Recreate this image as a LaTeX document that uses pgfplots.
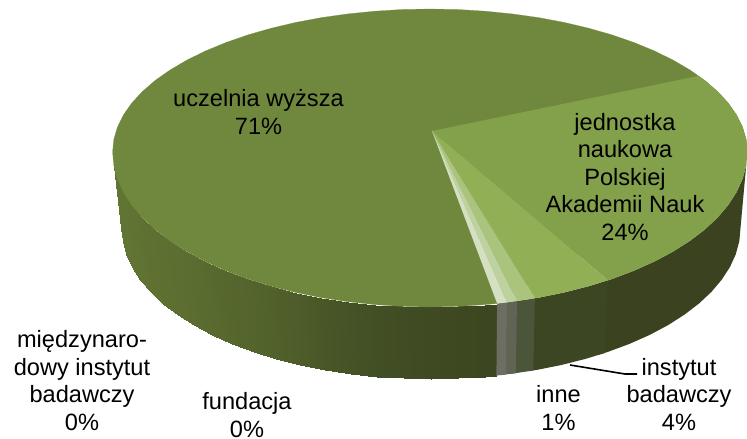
\documentclass[border=0pt]{standalone}
\usepackage{pgfplots}
\usepackage{fontspec}
\setmainfont{Liberation Sans}
\pgfplotsset{compat=1.18}
\definecolor{cA}{RGB}{112,136,61}
\definecolor{cB}{RGB}{131,160,75}
\definecolor{cC}{RGB}{145,175,85}
\definecolor{cD}{RGB}{170,195,125}
\definecolor{cE}{RGB}{190,210,160}
\definecolor{cF}{RGB}{213,224,195}
\definecolor{sB}{RGB}{58,66,32}
\definecolor{sC}{RGB}{60,70,35}
\definecolor{sD}{RGB}{75,85,58}
\definecolor{sE}{RGB}{95,100,85}
\definecolor{sF}{RGB}{108,110,100}
\tikzset{lab/.style={anchor=base,font=\fontsize{23.6pt}{27.4pt}\selectfont,align=center,inner sep=0pt,text=black}}
\begin{document}
\begin{tikzpicture}
\path[use as bounding box] (0,0) rectangle (747pt,439pt);
\begin{axis}[at={(0,0)},anchor=south west,scale only axis,width=747pt,height=439pt,
  xmin=0,xmax=747,ymin=0,ymax=439,y dir=reverse,hide axis,
  colormap={side}{rgb255=(60,70,32) rgb255=(66,78,36) rgb255=(81,97,43) rgb255=(91,109,48) rgb255=(96,115,51) rgb255=(98,118,52)},
  point meta min=80,point meta max=180]
% side, uczelnia wyzsza (gradient)
\addplot[surf,shader=interp,mesh/rows=2,mesh/cols=22,point meta=explicit] table[x=x,y=y,meta=t]{
x y t
112.6 152 180
113.8 165.5 175
117.4 178.9 170
123.4 192.1 165
131.7 205 160
142.3 217.5 155
155.1 229.5 150
170.0 240.9 145
186.9 251.6 140
205.6 261.6 135
226.0 270.7 130
247.9 279 125
271.3 286.2 120
295.9 292.5 115
321.4 297.7 110
347.9 301.7 105
374.9 304.6 100
402.3 306.4 95
430 307 90
457.7 306.4 85
485.1 304.6 80
497.1 303.5 80
121.5 228 180
122.7 241.2 175
126.2 254.2 170
132.1 267.1 165
140.2 279.6 160
150.5 291.8 155
163 303.5 150
177.5 314.6 145
193.9 325.1 140
212.1 334.8 135
232.1 343.7 130
253.5 351.7 125
276.2 358.8 120
300.2 364.9 115
325.2 369.9 110
350.9 373.9 105
377.3 376.7 100
404 378.4 95
431 379 90
458 378.4 85
484.7 376.7 80
496.4 375.6 80
};
% side, jednostka
\addplot[fill=sB,draw=none] coordinates {(747.4,152)(746.2,165.5)(742.6,178.9)(736.6,192.1)(728.3,205)(717.7,217.5)(704.9,229.5)(690,240.9)(673.1,251.6)(654.4,261.6)(634,270.7)(612.1,279)(600,283)
 (598,355)(608.5,351.7)(629.9,343.7)(649.9,334.8)(668.1,325.1)(684.5,314.6)(699,303.5)(711.5,291.8)(721.8,279.6)(729.9,267.1)(735.8,254.2)(739.3,241.2)(740.5,228)} --cycle;
% side, instytut
\addplot[fill=sC,draw=none] coordinates {(608,280.3)(588.7,286.2)(564.1,292.5)(538.6,297.7)(530,299)(529,371)(536.8,369.9)(561.8,364.9)(585.8,358.8)(604.6,353)} --cycle;
% side, inne and the two 0% slices
\addplot[fill=sD,draw=none] coordinates {(534.9,298.3)(512,301.7)(511,373.8)(533.3,370.5)} --cycle;
\addplot[fill=sE,draw=none] coordinates {(517,301.1)(502,303)(501,375.1)(515.8,373.2)} --cycle;
\addplot[fill=sF,draw=none] coordinates {(506.8,302.4)(497.1,303.5)(496.4,375.6)(505.9,374.5)} --cycle;
% top, uczelnia wyzsza as the whole disc
\addplot[fill=cA,draw=cA,line width=0.2pt] coordinates {(747.4,152)(746.2,139.5)(742.6,127.2)(736.6,115)(728.3,103.1)(717.7,91.6)(704.9,80.5)(690,70)(673.1,60.1)(654.4,50.9)(634,42.5)(612.1,34.9)(588.7,28.2)(564.1,22.4)(538.6,17.6)(512.1,13.9)(485.1,11.2)(457.7,9.5)(430,9)
(402.3,9.5)(374.9,11.2)(347.9,13.9)(321.4,17.6)(295.9,22.4)(271.3,28.2)(247.9,34.9)(226,42.5)(205.6,50.9)(186.9,60.1)(170,70)(155.1,80.5)(142.3,91.6)(131.7,103.1)(123.4,115)(117.4,127.2)(113.8,139.5)(112.6,152)
(113.8,165.5)(117.4,178.9)(123.4,192.1)(131.7,205)(142.3,217.5)(155.1,229.5)(170,240.9)(186.9,251.6)(205.6,261.6)(226,270.7)(247.9,279)(271.3,286.2)(295.9,292.5)(321.4,297.7)(347.9,301.7)(374.9,304.6)(402.3,306.4)(430,307)
(457.7,306.4)(485.1,304.6)(497.1,303.5)} --cycle;
% top, jednostka
\addplot[fill=cB,draw=none] coordinates {(432,131)(698,76)(704.9,80.5)(717.7,91.6)(728.3,103.1)(736.6,115)(742.6,127.2)(746.2,139.5)(747.4,152)(746.2,165.5)(742.6,178.9)(736.6,192.1)(728.3,205)(717.7,217.5)(704.9,229.5)(690,240.9)(673.1,251.6)(654.4,261.6)(634,270.7)(612.1,279)(608,280.3)} --cycle;
% top, instytut
\addplot[fill=cC,draw=none] coordinates {(432,131)(608,280.3)(588.7,286.2)(564.1,292.5)(538.6,297.7)(534.9,298.3)} --cycle;
% top, inne
\addplot[fill=cD,draw=none] coordinates {(432,131)(534.9,298.3)(517,301.1)} --cycle;
% top, fundacja
\addplot[fill=cE,draw=none] coordinates {(432,131)(517,301.1)(506.8,302.4)} --cycle;
% top, miedzynarodowy instytut
\addplot[fill=cF,draw=none] coordinates {(432,131)(506.8,302.4)(497.1,303.5)} --cycle;
% leader
\addplot[black,line width=1.6pt] coordinates {(570,365)(625,374)(637,374)};
% labels
\node[lab] at (axis cs:258.5,134) {uczelnia wyższa\\71\%};
\node[lab] at (axis cs:625,240) {jednostka\\naukowa\\Polskiej\\Akademii Nauk\\24\%};
\node[lab] at (axis cs:679,430) {instytut\\badawczy\\4\%};
\node[lab] at (axis cs:558.5,430) {inne\\1\%};
\node[lab] at (axis cs:82,430) {międzynaro-\\dowy instytut\\badawczy\\0\%};
\node[lab] at (axis cs:247,437) {fundacja\\0\%};
\end{axis}
\end{tikzpicture}
\end{document}
